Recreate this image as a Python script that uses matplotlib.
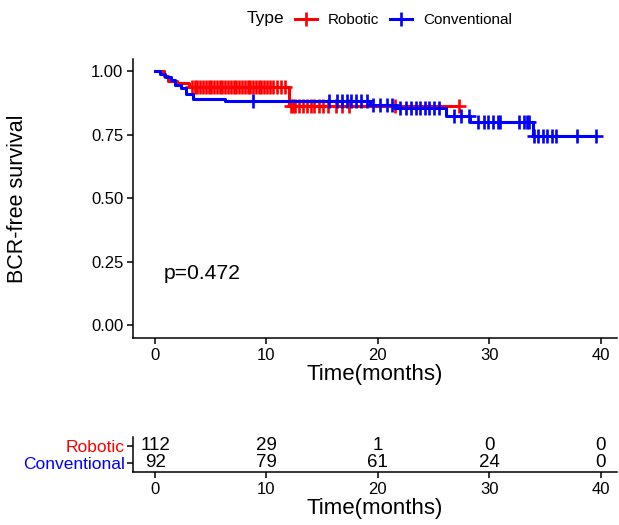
import numpy as np
import matplotlib.pyplot as plt
from matplotlib.lines import Line2D

plt.rcParams['font.family'] = ['Liberation Sans', 'DejaVu Sans']

groups = ['Robotic', 'Conventional']
colors = ['#FF0000', '#0000FF']

# Kaplan-Meier steps (months, survival)
rob_time = [0, 0.8, 1.2, 2.0, 3.0, 12.0]
rob_surv = [1.0, 0.982, 0.964, 0.955, 0.937, 0.866]
rob_end = 27.3
rob_cens = [3.3, 3.55, 3.8, 4.05, 4.3, 4.55, 4.8, 5.05, 5.3, 5.55, 5.8, 6.05, 6.3,
            6.55, 6.8, 7.05, 7.3, 7.55, 7.8, 8.05, 8.3, 8.55, 8.8, 9.05, 9.3, 9.55,
            9.8, 10.05, 10.3, 10.6, 10.9, 11.3, 11.7, 12.2, 12.4, 12.6, 12.9, 13.3,
            13.6, 14.0, 14.3, 14.7, 15.1, 15.5, 16.2, 16.8, 17.4, 21.5, 27.3]

con_time = [0, 0.4, 0.9, 1.4, 1.8, 2.3, 2.8, 3.4, 6.3, 19.3, 21.6, 26.1, 28.3, 33.9]
con_surv = [1.0, 0.989, 0.978, 0.967, 0.945, 0.934, 0.912, 0.893, 0.885, 0.868,
            0.855, 0.826, 0.800, 0.745]
con_end = 39.6
con_cens = [8.8, 15.6, 16.3, 16.8, 17.2, 17.6, 18.0, 18.5, 19.0, 19.6, 20.2, 20.8,
            21.3, 22.0, 22.5, 23.0, 23.4, 23.8, 24.2, 24.6, 25.0, 25.5, 26.8, 27.5,
            28.2, 29.0, 29.5, 29.9, 30.3, 30.8, 31.0, 32.7, 33.1, 33.4, 33.6, 34.0,
            34.4, 34.8, 35.2, 35.6, 36.0, 37.9, 39.6]

# numbers at risk
risk_times = [0, 10, 20, 30, 40]
rob_risk = [112, 29, 1, 0, 0]
con_risk = [92, 79, 61, 24, 0]

pval = 'p=0.472'


def step_value(times, surv, t):
    idx = np.searchsorted(times, t, side='right') - 1
    return np.array(surv)[idx]


fig = plt.figure(figsize=(6.19, 5.25), dpi=100)
ax = fig.add_axes([0.215, 0.356, 0.782, 0.532])

series = [(rob_time, rob_surv, rob_end, rob_cens), (con_time, con_surv, con_end, con_cens)]
for (t, s, end, cens), col in zip(series, colors):
    tt = list(t) + [end]
    ss = list(s) + [s[-1]]
    ax.step(tt, ss, where='post', color=col, lw=2.2)
    ax.plot(cens, step_value(t, s, cens), ls='none', marker='+', color=col,
            ms=10, mew=1.9)

ax.set_xlim(-1.975, 41.475)
ax.set_ylim(-0.05, 1.05)
ax.set_xticks([0, 10, 20, 30, 40])
ax.set_yticks([0, 0.25, 0.5, 0.75, 1.0])
ax.set_yticklabels(['0.00', '0.25', '0.50', '0.75', '1.00'])
for sp in ['top', 'right']:
    ax.spines[sp].set_visible(False)
for sp in ['left', 'bottom']:
    ax.spines[sp].set_linewidth(1.1)
ax.tick_params(labelsize=12, colors='black', length=4, width=1.1, pad=3)
ax.set_xlabel('Time(months)', fontsize=16, labelpad=1)
ax.set_ylabel('BCR-free survival', fontsize=15.5)
ax.yaxis.set_label_coords(-0.218, 0.5)
ax.text(0.8, 0.205, pval, fontsize=15.2, ha='left', va='center')

# legend
fig.text(0.399, 0.964, 'Type', fontsize=12.5, ha='left', va='center')
handles = [Line2D([], [], color=c, lw=2.2, marker='+', ms=10, mew=1.9) for c in colors]
fig.legend(handles, groups, ncol=2, frameon=False, fontsize=11,
           loc='center left', bbox_to_anchor=(0.4766, 0.962),
           borderpad=0, borderaxespad=0,
           handlelength=1.44, handletextpad=0.72, columnspacing=0.72)

# risk table
rt = fig.add_axes([0.215, 0.101, 0.782, 0.067])
rt.set_xlim(-1.975, 41.475)
rt.set_ylim(0.47, 2.53)
for x, r1, r2 in zip(risk_times, rob_risk, con_risk):
    rt.text(x, 2, str(r1), ha='center', va='center', fontsize=13.5)
    rt.text(x, 1, str(r2), ha='center', va='center', fontsize=13.5)
rt.set_xticks(risk_times)
rt.set_yticks([2, 1])
rt.set_yticklabels(groups, fontsize=12.5)
for lab, c in zip(rt.get_yticklabels(), colors):
    lab.set_color(c)
for sp in ['top', 'right']:
    rt.spines[sp].set_visible(False)
for sp in ['left', 'bottom']:
    rt.spines[sp].set_linewidth(1.1)
rt.tick_params(axis='x', labelsize=12, length=4, width=1.1, pad=3)
rt.tick_params(axis='y', length=4, width=1.1, pad=2)
rt.set_xlabel('Time(months)', fontsize=16, labelpad=1)

fig.savefig('out.png', dpi=100)
